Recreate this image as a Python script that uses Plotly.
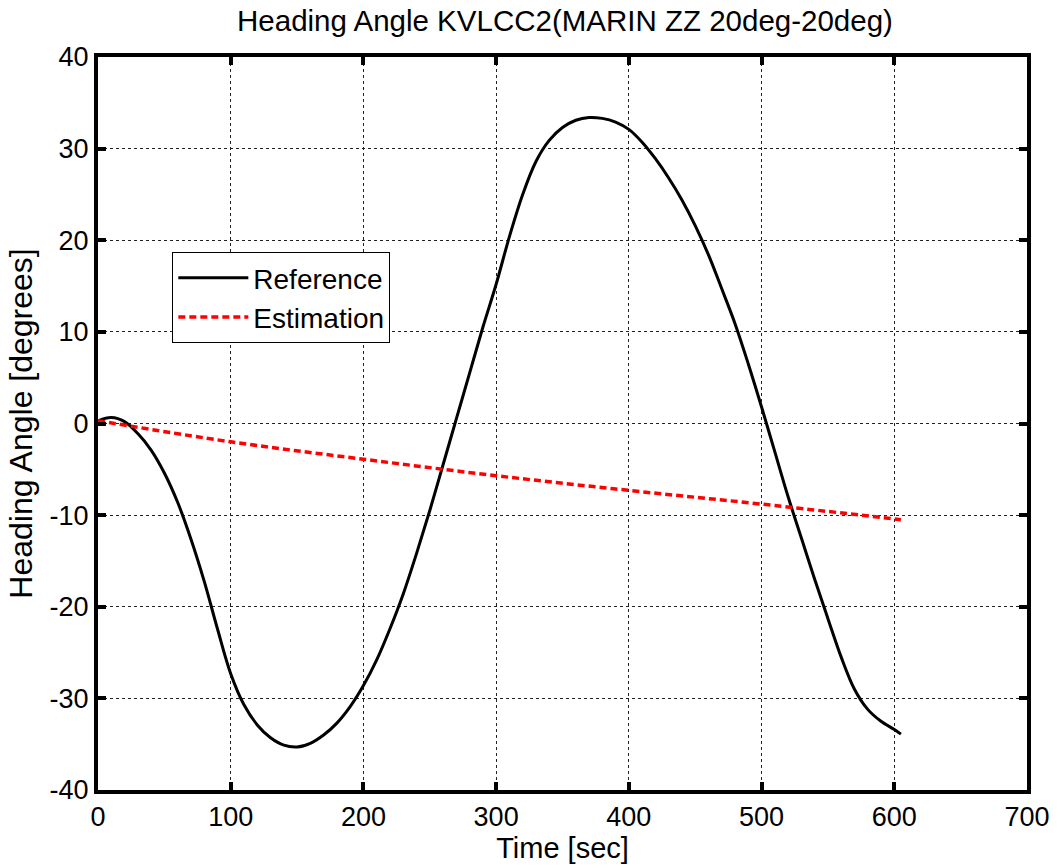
import plotly.graph_objects as go

# Reference heading angle (black solid), read every 10 s
t_ref = [0, 10, 20, 30, 40, 50, 60, 70, 80, 90, 100, 110, 120, 130, 140, 150, 160, 170,
         180, 190, 200, 210, 220, 230, 240, 250, 260, 270, 280, 290, 300, 310, 320, 330,
         340, 350, 360, 370, 380, 390, 400, 410, 420, 430, 440, 450, 460, 470, 480, 490,
         500, 510, 520, 530, 540, 550, 560, 570, 580, 590, 600, 605]
v_ref = [0.3, 0.65, 0.2, -1.1, -2.9, -5.4, -8.6, -12.6, -17.2, -22.4, -27.3, -30.7, -32.9,
         -34.3, -35.1, -35.3, -34.9, -34.0, -32.7, -30.9, -28.6, -25.8, -22.4, -18.6, -14.2,
         -9.5, -4.5, 0.5, 5.5, 10.5, 15.2, 20.4, 25.0, 28.6, 30.9, 32.3, 33.1, 33.4, 33.3,
         32.9, 32.1, 30.7, 28.9, 26.8, 24.4, 21.6, 18.4, 14.7, 10.9, 6.5, 1.8, -3.1, -8.0,
         -12.5, -17.0, -21.3, -25.5, -29.0, -31.2, -32.5, -33.4, -33.9]

# Estimation (red dashed)
t_est = [0, 100, 200, 300, 400, 500, 605]
v_est = [0.3, -2.0, -3.9, -5.7, -7.3, -8.8, -10.5]

x_ticks = [0, 100, 200, 300, 400, 500, 600, 700]
x_ticktext = ["0", "100", "200", "300", "400", "500", "600", "700"]
y_ticks = [-40, -30, -20, -10, 0, 10, 20, 30, 40]
y_ticktext = ["-40", "-30", "-20", "-10", "0", "10", "20", "30", "40"]

FONT = "Liberation Sans, Arial, sans-serif"

fig = go.Figure()
fig.add_trace(go.Scatter(x=t_ref, y=v_ref, mode="lines", name="Reference",
                         line=dict(color="black", width=3, shape="spline", smoothing=1.0)))
fig.add_trace(go.Scatter(x=t_est, y=v_est, mode="lines", name="Estimation",
                         line=dict(color="#ff0000", width=3.5, dash="7px,4px", shape="spline")))

axis_common = dict(
    showline=True, linecolor="black", linewidth=4, mirror="ticks",
    ticks="inside", ticklen=8, tickwidth=4, tickcolor="black",
    showgrid=True, gridcolor="#222222", gridwidth=1, griddash="dot",
    zeroline=False,
    tickfont=dict(family=FONT, size=27, color="black"),
)

fig.update_xaxes(range=[0, 700], tickvals=x_ticks, ticktext=x_ticktext,
                 title=dict(text="Time [sec]", font=dict(family=FONT, size=29, color="black"),
                            standoff=0),
                 **axis_common)
fig.update_yaxes(range=[-40, 40], tickvals=y_ticks, ticktext=y_ticktext,
                 title=dict(text="Heading Angle [degrees]",
                            font=dict(family=FONT, size=32, color="black"), standoff=8),
                 **axis_common)

fig.update_layout(
    width=1062, height=868,
    margin=dict(l=98, r=30, t=57, b=78),
    paper_bgcolor="white", plot_bgcolor="white",
    title=dict(text="Heading Angle KVLCC2(MARIN ZZ 20deg-20deg)",
               font=dict(family=FONT, size=29.5, color="black"),
               x=0.532, xanchor="center", y=0.976, yanchor="middle"),
    legend=dict(x=0.08, y=0.734, xanchor="left", yanchor="top",
                bgcolor="white", bordercolor="black", borderwidth=1,
                font=dict(family=FONT, size=28, color="black"),
                itemwidth=70, tracegroupgap=0),
    showlegend=True,
)

fig.write_html("out.html")
